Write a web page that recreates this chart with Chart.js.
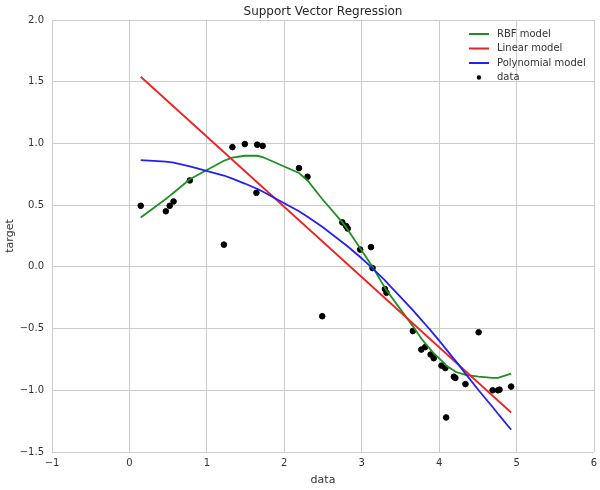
<!DOCTYPE html>
<html>
<head>
<meta charset="utf-8">
<script src="https://cdn.jsdelivr.net/npm/chart.js@4.4.1/dist/chart.umd.min.js"></script>
<style>
  html, body { margin: 0; padding: 0; background: #fff; }
  #wrap { width: 600px; height: 490px; }
</style>
</head>
<body>
<div id="wrap"><canvas id="svr" width="600" height="490"></canvas></div>
<script>
// sample points (sorted by x)
const xData = [0.146, 0.47, 0.52, 0.57, 0.78, 1.22, 1.33, 1.49, 1.64, 1.65,
  1.72, 2.19, 2.30, 2.49, 2.75, 2.80, 2.82, 2.98, 3.12, 3.14,
  3.30, 3.32, 3.66, 3.77, 3.82, 3.89, 3.93, 4.03, 4.08, 4.09,
  4.19, 4.21, 4.34, 4.51, 4.69, 4.76, 4.78, 4.93];
const yData = [0.495, 0.45, 0.495, 0.53, 0.70, 0.18, 0.97, 0.995, 0.60, 0.99,
  0.98, 0.80, 0.73, -0.40, 0.36, 0.33, 0.31, 0.14, 0.16, -0.01,
  -0.18, -0.21, -0.52, -0.67, -0.65, -0.71, -0.74, -0.80, -0.82, -1.22,
  -0.89, -0.90, -0.95, -0.53, -1.00, -1.00, -0.995, -0.97];

// model predictions at the same x values
const rbfPred = [0.40, 0.55, 0.575, 0.60, 0.71, 0.86, 0.885, 0.90, 0.90, 0.90,
  0.89, 0.76, 0.70, 0.55, 0.36, 0.32, 0.30, 0.15, 0.02, 0.00,
  -0.17, -0.19, -0.48, -0.58, -0.62, -0.67, -0.70, -0.76, -0.79, -0.80,
  -0.84, -0.85, -0.875, -0.89, -0.90, -0.90, -0.895, -0.865];
const polyPred = [0.865, 0.853, 0.849, 0.845, 0.815, 0.74, 0.715, 0.675, 0.635, 0.632,
  0.61, 0.45, 0.405, 0.325, 0.20, 0.175, 0.165, 0.08, 0.00, -0.012,
  -0.11, -0.123, -0.35, -0.43, -0.465, -0.515, -0.545, -0.62, -0.66, -0.667,
  -0.745, -0.76, -0.865, -1.00, -1.135, -1.19, -1.205, -1.32];
const linX = [0.146, 4.93];
const linY = [1.54, -1.18];

const xTicks = [-1, 0, 1, 2, 3, 4, 5, 6];
const yTicks = [-1.5, -1.0, -0.5, 0.0, 0.5, 1.0, 1.5, 2.0];

const FONT = '"DejaVu Sans", sans-serif';
const TXT = '#333333';
const GRID = '#cccccc';

function pts(xs, ys) {
  return xs.map((x, i) => ({ x, y: ys[i] }));
}
function minus(s) {
  return String(s).replace('-', '\u2212');
}

const legendItems = [
  { label: 'RBF model', color: '#1f8f1f', kind: 'line' },
  { label: 'Linear model', color: '#ee2222', kind: 'line' },
  { label: 'Polynomial model', color: '#2222ee', kind: 'line' },
  { label: 'data', color: '#000000', kind: 'dot' }
];

const overlay = {
  id: 'overlay',
  afterDraw(chart) {
    const ctx = chart.ctx;
    const area = chart.chartArea;
    ctx.save();
    ctx.fillStyle = '#262626';
    ctx.font = '12px ' + FONT;
    ctx.textAlign = 'center';
    ctx.textBaseline = 'middle';
    ctx.fillText('Support Vector Regression', (area.left + area.right) / 2, 12);

    ctx.font = '10px ' + FONT;
    ctx.textAlign = 'left';
    legendItems.forEach((it, i) => {
      const y = 34 + i * 14.5;
      if (it.kind === 'line') {
        ctx.strokeStyle = it.color;
        ctx.lineWidth = 2;
        ctx.beginPath();
        ctx.moveTo(469, y);
        ctx.lineTo(489, y);
        ctx.stroke();
      } else {
        ctx.fillStyle = it.color;
        ctx.beginPath();
        ctx.arc(479, y, 2.2, 0, Math.PI * 2);
        ctx.fill();
      }
      ctx.fillStyle = TXT;
      ctx.fillText(it.label, 497, y);
    });
    ctx.restore();
  }
};

new Chart(document.getElementById('svr').getContext('2d'), {
  type: 'scatter',
  data: {
    datasets: [
      {
        label: 'data',
        data: pts(xData, yData),
        backgroundColor: '#000',
        borderColor: '#000',
        pointRadius: 2.8,
        order: 4
      },
      {
        type: 'line',
        label: 'RBF model',
        data: pts(xData, rbfPred),
        borderColor: legendItems[0].color,
        borderWidth: 1.8,
        pointRadius: 0,
        fill: false,
        tension: 0,
        order: 3
      },
      {
        type: 'line',
        label: 'Linear model',
        data: pts(linX, linY),
        borderColor: legendItems[1].color,
        borderWidth: 1.8,
        pointRadius: 0,
        fill: false,
        order: 2
      },
      {
        type: 'line',
        label: 'Polynomial model',
        data: pts(xData, polyPred),
        borderColor: legendItems[2].color,
        borderWidth: 1.8,
        pointRadius: 0,
        fill: false,
        tension: 0,
        order: 1
      }
    ]
  },
  options: {
    responsive: false,
    animation: false,
    devicePixelRatio: 1,
    layout: { padding: { left: 0, top: 20, right: 0, bottom: 0 } },
    plugins: {
      legend: { display: false },
      title: { display: false },
      tooltip: { enabled: false }
    },
    scales: {
      x: {
        type: 'linear',
        min: -1,
        max: 6,
        afterBuildTicks: (s) => { s.ticks = xTicks.map((v) => ({ value: v })); },
        afterFit: (s) => { s.height = 38; s.paddingRight = 6; },
        grid: { color: GRID, lineWidth: 1, drawTicks: false },
        border: { display: false },
        ticks: {
          color: TXT,
          font: { family: FONT, size: 10 },
          padding: 5,
          callback: (v) => minus(v)
        },
        title: {
          display: true,
          text: 'data',
          color: TXT,
          font: { family: FONT, size: 11 },
          padding: { top: 0, bottom: 3 }
        }
      },
      y: {
        type: 'linear',
        min: -1.5,
        max: 2.0,
        afterBuildTicks: (s) => { s.ticks = yTicks.map((v) => ({ value: v })); },
        afterFit: (s) => { s.width = 52; },
        grid: { color: GRID, lineWidth: 1, drawTicks: false },
        border: { display: false },
        ticks: {
          color: TXT,
          font: { family: FONT, size: 10 },
          padding: 8,
          callback: (v) => minus(Number(v).toFixed(1))
        },
        title: {
          display: true,
          text: 'target',
          color: TXT,
          font: { family: FONT, size: 11 },
          padding: { top: 4, bottom: 0 }
        }
      }
    }
  },
  plugins: [overlay]
});
</script>
</body>
</html>
